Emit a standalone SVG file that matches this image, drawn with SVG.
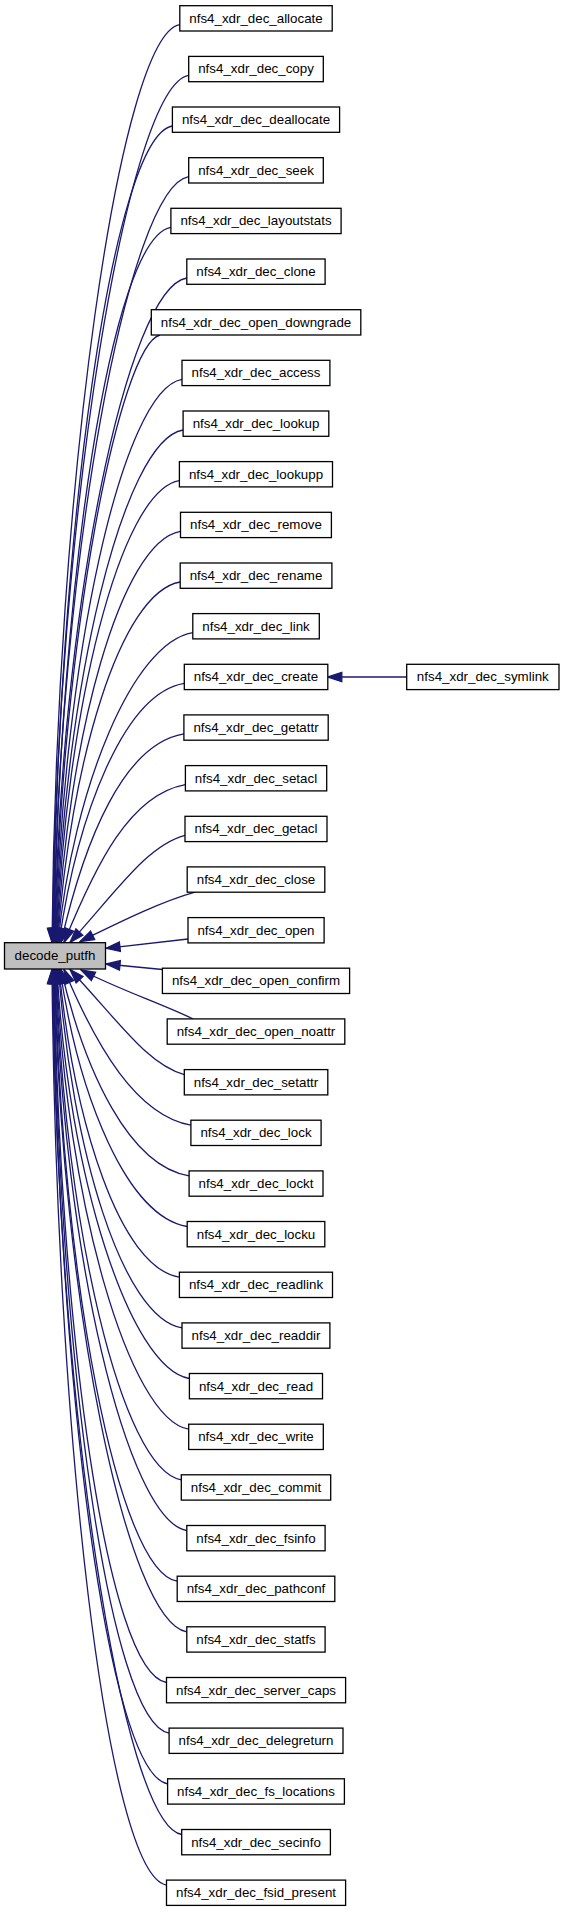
<svg xmlns="http://www.w3.org/2000/svg" width="564" height="1912" viewBox="0 0 564 1912">
<style>
.n rect{fill:#fff;stroke:#000;stroke-width:1.3}
.n.root rect{fill:#bfbfbf}
.n text{font-family:"Liberation Sans",Arial,Helvetica,sans-serif;font-size:13.33px;text-anchor:middle;fill:#000}
.e path{fill:none;stroke:#191970;stroke-width:1.3;marker-end:url(#arr)}
</style>
<defs>
<marker id="arr" markerUnits="userSpaceOnUse" markerWidth="16" markerHeight="12" viewBox="-1 -1 16 12" refX="14" refY="5" orient="auto">
<path d="M0,0.3 L14,5 L0,9.7 z" fill="#191970" stroke="#191970" stroke-width="1.3"/>
</marker>
</defs>
<rect width="564" height="1912" fill="#fff"/>
<g id="edges" class="e">
<path d="M179.8,24.7 C119.8,34.7 55.9,483.6 52,942.5"/>
<path d="M188.7,75.4 C128.7,85.4 56.7,509 52.5,942.5"/>
<path d="M172.4,126 C112.4,136 57.6,534.3 53,942.5"/>
<path d="M188.7,176.7 C128.7,186.7 58.6,559.6 53.5,942.5"/>
<path d="M170.9,227.3 C110.9,237.3 59.6,584.9 54,942.5"/>
<path d="M186.8,278 C126.8,288 60.6,610.3 54.5,942.5"/>
<path d="M160,335 C120,345 61.8,635.6 55,942.5"/>
<path d="M182,379.3 C122,389.3 63.1,660.9 55.5,942.5"/>
<path d="M183.1,430 C123.1,440 64.5,686.3 56,942.5"/>
<path d="M179.4,480.6 C119.4,490.6 66.2,711.6 56.5,942.5"/>
<path d="M180.5,531.3 C120.5,541.3 68.1,736.9 57,942.5"/>
<path d="M180.2,582 C120.2,592 70.5,762.3 57.5,942.5"/>
<path d="M192.8,632.6 C132.8,642.6 73.4,787.5 58,942.5"/>
<path d="M184.3,683.3 C124.3,693.3 77.8,812.9 59,942.5"/>
<path d="M183.9,733.9 C123.9,743.9 84.9,838.2 61,942.5"/>
<path d="M185.4,784.6 C130.1,794.6 96.2,863.5 64,942.5"/>
<path d="M185,835.3 C147.5,845.3 118.4,888.9 70,942.5"/>
<path d="M195,892.2 C160,902 120,922 80,941.5"/>
<path d="M188,939 L106,948.3"/>
<path d="M162.4,969.5 L106,964"/>
<path d="M193,1018.9 C160,1003 120,990 81,970"/>
<path d="M184.3,1074.6 C147.5,1064.6 119.4,1022.1 70,969.5"/>
<path d="M190.9,1125.2 C136.4,1115.2 96.7,1047.4 64,969.5"/>
<path d="M189.1,1175.9 C129.1,1165.9 85.2,1072.7 61,969.5"/>
<path d="M187.2,1226.5 C127.2,1216.5 79,1098 60,969.5"/>
<path d="M179.4,1277.2 C119.4,1267.2 74.5,1123.4 59,969.5"/>
<path d="M182,1327.9 C122,1317.9 71.6,1148.7 58.5,969.5"/>
<path d="M189.4,1378.5 C129.4,1368.5 68.2,1174 57,969.5"/>
<path d="M188.7,1429.2 C128.7,1419.2 66.2,1199.4 56.5,969.5"/>
<path d="M181.3,1479.8 C121.3,1469.8 64.6,1224.7 56,969.5"/>
<path d="M186.8,1530.5 C126.8,1520.5 63.1,1250 55.5,969.5"/>
<path d="M177.2,1581.2 C117.2,1571.2 61.8,1275.4 55,969.5"/>
<path d="M186.8,1631.8 C126.8,1621.8 60.7,1300.7 54.5,969.5"/>
<path d="M166.5,1682.5 C106.5,1672.5 59.6,1326 54,969.5"/>
<path d="M169.1,1733.1 C109.1,1723.1 58.6,1351.3 53.5,969.5"/>
<path d="M167.6,1783.8 C107.6,1773.8 57.6,1376.7 53,969.5"/>
<path d="M181.7,1834.5 C121.7,1824.5 56.7,1402 52.5,969.5"/>
<path d="M166.5,1885.1 C106.5,1875.1 55.9,1427.3 52,969.5"/>
<path d="M406.7,677 L327.8,677"/>
</g>
<g id="decode_putfh" class="n root"><rect x="4.5" y="942.7" width="101" height="26.3"/><text x="55" y="960.3">decode_putfh</text></g>
<g id="n_allocate" class="n"><rect x="179.8" y="5.7" width="152.4" height="25.3"/><text x="256" y="22.7">nfs4_xdr_dec_allocate</text></g>
<g id="n_copy" class="n"><rect x="188.7" y="56.4" width="134.6" height="25.3"/><text x="256" y="73.4">nfs4_xdr_dec_copy</text></g>
<g id="n_deallocate" class="n"><rect x="172.4" y="107" width="167.2" height="25.3"/><text x="256" y="124">nfs4_xdr_dec_deallocate</text></g>
<g id="n_seek" class="n"><rect x="188.7" y="157.7" width="134.6" height="25.3"/><text x="256" y="174.7">nfs4_xdr_dec_seek</text></g>
<g id="n_layoutstats" class="n"><rect x="170.9" y="208.3" width="170.2" height="25.3"/><text x="256" y="225.3">nfs4_xdr_dec_layoutstats</text></g>
<g id="n_clone" class="n"><rect x="186.8" y="259" width="138.3" height="25.3"/><text x="256" y="276">nfs4_xdr_dec_clone</text></g>
<g id="n_open_downgrade" class="n"><rect x="151.3" y="309.7" width="209.5" height="25.3"/><text x="256" y="326.7">nfs4_xdr_dec_open_downgrade</text></g>
<g id="n_access" class="n"><rect x="182" y="360.3" width="147.9" height="25.3"/><text x="256" y="377.3">nfs4_xdr_dec_access</text></g>
<g id="n_lookup" class="n"><rect x="183.1" y="411" width="145.7" height="25.3"/><text x="256" y="428">nfs4_xdr_dec_lookup</text></g>
<g id="n_lookupp" class="n"><rect x="179.4" y="461.6" width="153.1" height="25.3"/><text x="256" y="478.6">nfs4_xdr_dec_lookupp</text></g>
<g id="n_remove" class="n"><rect x="180.5" y="512.3" width="150.9" height="25.3"/><text x="256" y="529.3">nfs4_xdr_dec_remove</text></g>
<g id="n_rename" class="n"><rect x="180.2" y="563" width="151.7" height="25.3"/><text x="256" y="580">nfs4_xdr_dec_rename</text></g>
<g id="n_link" class="n"><rect x="192.8" y="613.6" width="126.5" height="25.3"/><text x="256" y="630.6">nfs4_xdr_dec_link</text></g>
<g id="n_create" class="n"><rect x="184.3" y="664.3" width="143.5" height="25.3"/><text x="256" y="681.3">nfs4_xdr_dec_create</text></g>
<g id="n_symlink" class="n"><rect x="406.7" y="664.3" width="152.3" height="25.3"/><text x="482.8" y="681.3">nfs4_xdr_dec_symlink</text></g>
<g id="n_getattr" class="n"><rect x="183.9" y="714.9" width="144.3" height="25.3"/><text x="256" y="731.9">nfs4_xdr_dec_getattr</text></g>
<g id="n_setacl" class="n"><rect x="185.4" y="765.6" width="141.3" height="25.3"/><text x="256" y="782.6">nfs4_xdr_dec_setacl</text></g>
<g id="n_getacl" class="n"><rect x="185" y="816.3" width="142" height="25.3"/><text x="256" y="833.3">nfs4_xdr_dec_getacl</text></g>
<g id="n_close" class="n"><rect x="187.2" y="866.9" width="137.6" height="25.3"/><text x="256" y="883.9">nfs4_xdr_dec_close</text></g>
<g id="n_open" class="n"><rect x="188" y="917.6" width="136.1" height="25.3"/><text x="256" y="934.6">nfs4_xdr_dec_open</text></g>
<g id="n_open_confirm" class="n"><rect x="162.4" y="968.2" width="187.2" height="25.3"/><text x="256" y="985.2">nfs4_xdr_dec_open_confirm</text></g>
<g id="n_open_noattr" class="n"><rect x="167.2" y="1018.9" width="177.6" height="25.3"/><text x="256" y="1035.9">nfs4_xdr_dec_open_noattr</text></g>
<g id="n_setattr" class="n"><rect x="184.3" y="1069.6" width="143.5" height="25.3"/><text x="256" y="1086.6">nfs4_xdr_dec_setattr</text></g>
<g id="n_lock" class="n"><rect x="190.9" y="1120.2" width="130.2" height="25.3"/><text x="256" y="1137.2">nfs4_xdr_dec_lock</text></g>
<g id="n_lockt" class="n"><rect x="189.1" y="1170.9" width="133.9" height="25.3"/><text x="256" y="1187.9">nfs4_xdr_dec_lockt</text></g>
<g id="n_locku" class="n"><rect x="187.2" y="1221.5" width="137.6" height="25.3"/><text x="256" y="1238.5">nfs4_xdr_dec_locku</text></g>
<g id="n_readlink" class="n"><rect x="179.4" y="1272.2" width="153.1" height="25.3"/><text x="256" y="1289.2">nfs4_xdr_dec_readlink</text></g>
<g id="n_readdir" class="n"><rect x="182" y="1322.9" width="147.9" height="25.3"/><text x="256" y="1339.9">nfs4_xdr_dec_readdir</text></g>
<g id="n_read" class="n"><rect x="189.4" y="1373.5" width="133.1" height="25.3"/><text x="256" y="1390.5">nfs4_xdr_dec_read</text></g>
<g id="n_write" class="n"><rect x="188.7" y="1424.2" width="134.6" height="25.3"/><text x="256" y="1441.2">nfs4_xdr_dec_write</text></g>
<g id="n_commit" class="n"><rect x="181.3" y="1474.8" width="149.4" height="25.3"/><text x="256" y="1491.8">nfs4_xdr_dec_commit</text></g>
<g id="n_fsinfo" class="n"><rect x="186.8" y="1525.5" width="138.3" height="25.3"/><text x="256" y="1542.5">nfs4_xdr_dec_fsinfo</text></g>
<g id="n_pathconf" class="n"><rect x="177.2" y="1576.2" width="157.6" height="25.3"/><text x="256" y="1593.2">nfs4_xdr_dec_pathconf</text></g>
<g id="n_statfs" class="n"><rect x="186.8" y="1626.8" width="138.3" height="25.3"/><text x="256" y="1643.8">nfs4_xdr_dec_statfs</text></g>
<g id="n_server_caps" class="n"><rect x="166.5" y="1677.5" width="179.1" height="25.3"/><text x="256" y="1694.5">nfs4_xdr_dec_server_caps</text></g>
<g id="n_delegreturn" class="n"><rect x="169.1" y="1728.1" width="173.9" height="25.3"/><text x="256" y="1745.1">nfs4_xdr_dec_delegreturn</text></g>
<g id="n_fs_locations" class="n"><rect x="167.6" y="1778.8" width="176.8" height="25.3"/><text x="256" y="1795.8">nfs4_xdr_dec_fs_locations</text></g>
<g id="n_secinfo" class="n"><rect x="181.7" y="1829.5" width="148.7" height="25.3"/><text x="256" y="1846.5">nfs4_xdr_dec_secinfo</text></g>
<g id="n_fsid_present" class="n"><rect x="166.5" y="1880.1" width="179.1" height="25.3"/><text x="256" y="1897.1">nfs4_xdr_dec_fsid_present</text></g>
</svg>
